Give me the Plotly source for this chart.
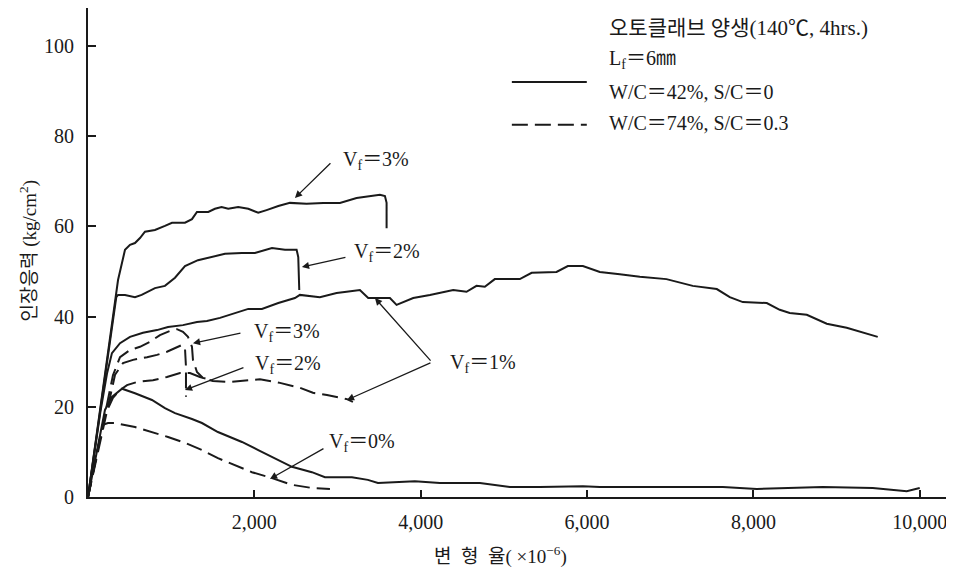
import plotly.graph_objects as go

# ---------------- data (strain x10^-6, stress kg/cm2) ----------------
# W/C=42%, S/C=0 (solid)
s3_x = [0, 361, 445, 505, 565, 625, 685, 805, 925, 1010, 1166, 1250, 1310, 1446, 1526, 1606, 1686, 1806, 1927, 2047, 2147, 2288, 2428, 2568, 2628, 2829, 3029, 3229, 3510, 3570, 3590, 3590]
s3_y = [0, 48.1, 54.8, 55.9, 56.3, 57.4, 58.8, 59.2, 60.1, 60.8, 60.8, 61.6, 63.2, 63.2, 63.9, 64.3, 63.9, 64.3, 63.9, 63.0, 63.6, 64.5, 65.2, 65.0, 65.0, 65.2, 65.2, 66.3, 67.0, 66.7, 65.2, 59.6]

s2_x = [0, 340, 361, 445, 565, 645, 805, 925, 1046, 1166, 1322, 1490, 1647, 1851, 2007, 2212, 2368, 2508, 2528, 2540]
s2_y = [0, 44.3, 44.8, 44.8, 44.3, 44.8, 46.3, 46.8, 48.6, 51.2, 52.5, 53.2, 53.9, 54.1, 54.1, 55.2, 54.8, 54.8, 53.2, 45.9]

s1_x = [0, 150, 230, 288, 385, 505, 661, 829, 962, 1142, 1310, 1430, 1587, 1743, 1927, 2091, 2288, 2488, 2548, 2788, 2989, 3109, 3269, 3369, 3630, 3710, 3910, 4111, 4391, 4551, 4671, 4771, 4891, 5192, 5334, 5633, 5769, 5950, 6154, 6394, 6635, 6955, 7115, 7271, 7560, 7716, 7873, 8161, 8317, 8437, 8642, 8798, 8882, 9122, 9279, 9495]
s1_y = [0, 19.0, 27.5, 31.9, 34.1, 35.5, 36.4, 37.0, 37.7, 38.1, 38.8, 39.0, 39.7, 40.6, 41.7, 41.7, 43.0, 44.1, 44.8, 44.3, 45.2, 45.5, 45.9, 44.1, 44.1, 42.6, 44.1, 44.8, 45.9, 45.5, 46.8, 46.6, 48.3, 48.3, 49.7, 49.9, 51.2, 51.2, 49.9, 49.4, 48.8, 48.3, 47.5, 46.8, 46.1, 44.3, 43.2, 43.0, 41.5, 40.8, 40.4, 39.2, 38.4, 37.5, 36.6, 35.5]

s0_x = [0, 204, 288, 409, 565, 769, 925, 1046, 1250, 1370, 1562, 1731, 1851, 2047, 2248, 2452, 2692, 2849, 3173, 3365, 3486, 3774, 3930, 4231, 4712, 5072, 5433, 5950, 6154, 7031, 7632, 8041, 8834, 9435, 9844, 10000]
s0_y = [0, 19.3, 22.2, 24.0, 23.0, 21.5, 19.7, 18.6, 17.3, 16.4, 14.4, 13.1, 12.2, 10.4, 8.6, 6.7, 5.5, 4.4, 4.4, 3.8, 3.1, 3.3, 3.5, 3.1, 3.1, 2.2, 2.2, 2.4, 2.2, 2.2, 2.2, 1.8, 2.2, 2.0, 1.3, 2.0]

# W/C=74%, S/C=0.3 (dashed)
d3_x = [0, 250, 300, 349, 385, 505, 625, 745, 865, 986, 1070, 1142, 1202, 1250, 1262, 1310, 1382, 1490]
d3_y = [0, 22.0, 27.0, 29.3, 31.0, 32.6, 33.3, 34.4, 35.9, 36.8, 37.2, 36.6, 35.5, 33.3, 30.4, 27.7, 26.4, 25.9]

d2_x = [0, 250, 325, 421, 541, 709, 829, 949, 1070, 1130, 1166, 1178, 1178]
d2_y = [0, 21.0, 27.1, 29.7, 30.4, 31.0, 31.5, 32.2, 33.3, 33.7, 33.0, 28.8, 22.2]

d1_x = [0, 200, 300, 385, 469, 589, 781, 949, 1106, 1226, 1346, 1502, 1707, 1911, 2067, 2308, 2548, 2704, 2873, 3113, 3185]
d1_y = [0, 18.0, 22.0, 23.7, 24.8, 25.5, 25.9, 26.6, 27.5, 27.5, 26.6, 25.7, 25.5, 25.9, 26.1, 25.3, 24.2, 23.1, 22.6, 21.7, 21.1]

d0_x = [0, 180, 240, 325, 565, 769, 962, 1166, 1370, 1562, 1767, 1971, 2212, 2452, 2692, 2909]
d0_y = [0, 16.0, 16.4, 16.4, 15.5, 14.4, 13.3, 12.0, 10.4, 8.6, 7.1, 5.5, 4.2, 2.7, 2.0, 1.8]

x_ticks = [2000, 4000, 6000, 8000, 10000]
x_tick_text = ["2,000", "4,000", "6,000", "8,000", "10,000"]
y_ticks = [0, 20, 40, 60, 80, 100]
y_tick_text = ["0", "20", "40", "60", "80", "100"]

# ---------------- figure ----------------
FONT = "Liberation Serif, 'Noto Sans CJK KR', serif"
INK = "#1a1a1a"
DASH = "16px,7px"

fig = go.Figure()
solid = [(s3_x, s3_y), (s2_x, s2_y), (s1_x, s1_y), (s0_x, s0_y)]
dashed = [(d3_x, d3_y), (d2_x, d2_y), (d1_x, d1_y), (d0_x, d0_y)]
for xs, ys in solid:
    fig.add_trace(go.Scatter(x=xs, y=ys, mode="lines", showlegend=False,
                             line=dict(color=INK, width=2), hoverinfo="skip"))
for xs, ys in dashed:
    fig.add_trace(go.Scatter(x=xs, y=ys, mode="lines", showlegend=False,
                             line=dict(color=INK, width=2, dash=DASH), hoverinfo="skip"))

ann = []
def label(x, y, text, xanchor="center", size=20):
    ann.append(dict(x=x, y=y, xref="x", yref="y", text=text, showarrow=False,
                    xanchor=xanchor, yanchor="middle", font=dict(family=FONT, size=size, color=INK)))

def arrow(x, y, ax, ay):
    ann.append(dict(x=x, y=y, xref="x", yref="y", ax=ax, ay=ay, axref="x", ayref="y",
                    text="", showarrow=True, arrowhead=2, arrowsize=1.1, arrowwidth=1.3,
                    arrowcolor=INK, standoff=0))

V = "V<sub>f</sub>＝"
label(3462, 74.7, V + "3%")
arrow(2488, 66.3, 2933, 74.3)
label(3594, 54.1, V + "2%")
arrow(2572, 51.0, 3113, 53.2)
label(2392, 36.4, V + "3%")
arrow(1262, 34.1, 1851, 36.4)
label(2404, 29.3, V + "2%")
arrow(1166, 23.7, 1887, 28.8)
label(4748, 29.7, V + "1%")
arrow(3450, 44.1, 4135, 29.9)
arrow(3113, 21.5, 4135, 29.9)
label(3293, 12.0, V + "0%")
arrow(2188, 4.0, 2849, 10.9)

# legend block
label(6238, 104.0, "오토클래브 양생(140℃, 4hrs.)", xanchor="left", size=21)
label(6238, 96.9, "L<sub>f</sub>＝6㎜", xanchor="left")
label(6238, 89.8, "W/C＝42%, S/C＝0", xanchor="left")
label(6238, 82.9, "W/C＝74%, S/C＝0.3", xanchor="left")
fig.add_shape(type="line", x0=5096, x1=5997, y0=92.0, y1=92.0, xref="x", yref="y",
              line=dict(color=INK, width=2))
fig.add_shape(type="line", x0=5096, x1=5997, y0=82.5, y1=82.5, xref="x", yref="y",
              line=dict(color=INK, width=2, dash=DASH))

# axis titles
ann.append(dict(x=4964, y=-0.119, xref="x", yref="paper", text="변  형  율( ×10<sup>−6</sup>)",
                showarrow=False, xanchor="center", yanchor="middle",
                font=dict(family=FONT, size=19, color=INK)))
ann.append(dict(x=-0.069, y=54.5, xref="paper", yref="y", text="인장응력 (kg/cm<sup>2</sup>)",
                showarrow=False, textangle=-90, xanchor="center", yanchor="middle",
                font=dict(family=FONT, size=19, color=INK)))

# the page adds an 8px body margin, so the figure is sized/offset to compensate
fig.update_layout(
    width=946, height=564,
    margin=dict(l=80, r=1, t=0, b=75),
    paper_bgcolor="white", plot_bgcolor="white",
    annotations=ann,
    font=dict(family=FONT, size=20, color=INK),
    showlegend=False,
)
fig.update_xaxes(range=[0, 10400], tickvals=x_ticks, ticktext=x_tick_text,
                 ticks="inside", ticklen=7, tickwidth=1.5, tickcolor=INK,
                 showline=True, linecolor=INK, linewidth=2, showgrid=False, zeroline=False,
                 ticklabelstandoff=6, tickfont=dict(family=FONT, size=20, color=INK))
fig.update_yaxes(range=[0, 108.4], tickvals=y_ticks, ticktext=y_tick_text,
                 ticks="inside", ticklen=8, tickwidth=1.5, tickcolor=INK,
                 showline=True, linecolor=INK, linewidth=2, showgrid=False, zeroline=False,
                 ticklabelstandoff=8, tickfont=dict(family=FONT, size=20, color=INK))

fig.write_html("out.html")
